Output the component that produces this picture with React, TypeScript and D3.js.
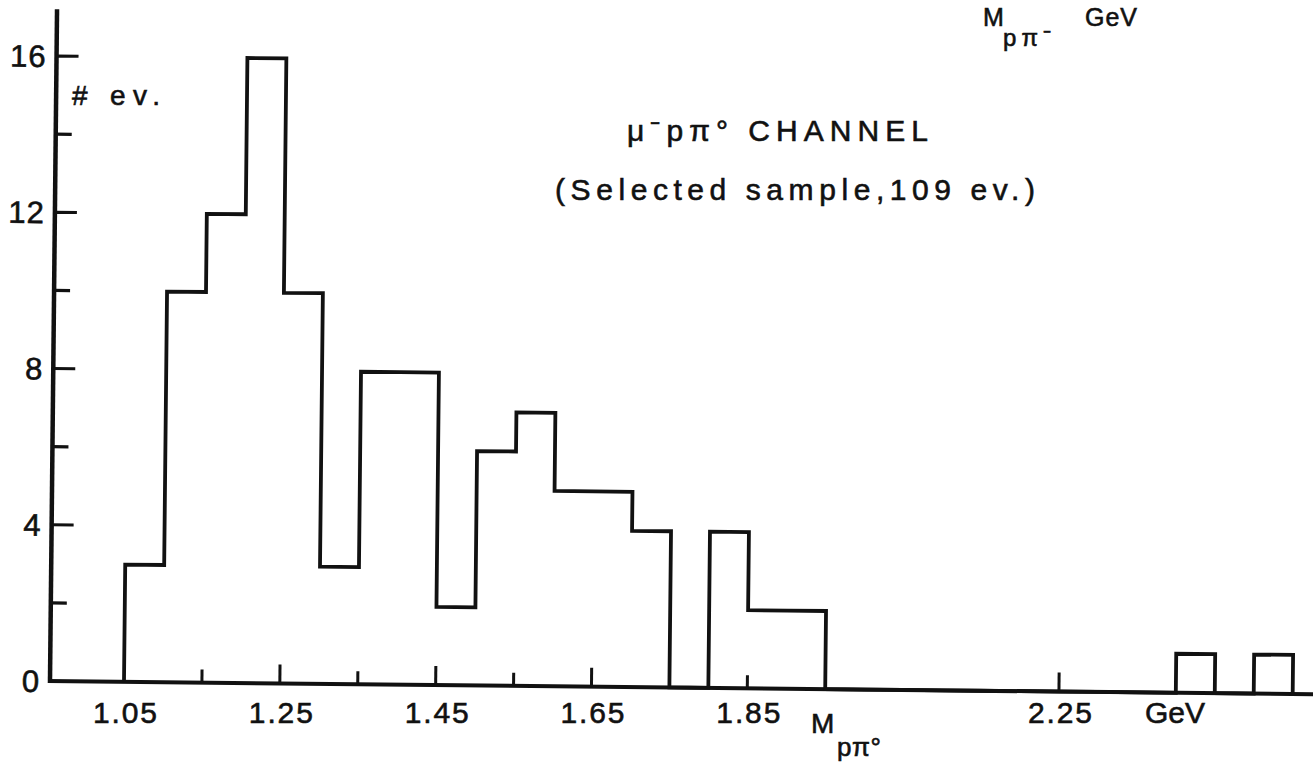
import React, { useEffect, useRef } from "react";
import * as d3 from "d3";

// bin edges in GeV and events per bin
const binEdges = [
  1.05, 1.1, 1.15, 1.2, 1.25, 1.3, 1.35, 1.4, 1.45, 1.5, 1.55, 1.6, 1.65, 1.7, 1.75,
  1.8, 1.85, 1.9, 1.95, 2.0, 2.05, 2.1, 2.15, 2.2, 2.25, 2.3, 2.35, 2.4, 2.45, 2.5, 2.55,
];
const counts = [
  3, 10, 12, 16, 10, 3, 8, 8, 2, 6, 7, 5, 5, 4, 0, 4, 2, 2, 0, 0, 0, 0, 0, 0, 0, 0, 0, 1,
  0, 1,
];

const xLabels = [1.05, 1.25, 1.45, 1.65, 1.85, 2.25];
const xTicksLong = [1.25, 1.45, 1.65, 2.25];
const xTicksShort = [1.15, 1.35, 1.55, 1.85];
const yLabels = [0, 4, 8, 12, 16];
const yTicksMajor = [4, 8, 12, 16];
const yTicksMinor = [2, 6, 10, 14];

const W = 1313;
const H = 763;
const INK = "#111";
const FONT = "'Liberation Sans', Arial, Helvetica, sans-serif";

function App() {
  const chartRef = useRef<SVGSVGElement>(null);

  useEffect(() => {
    const svg = d3.select(chartRef.current);
    svg.selectAll("*").remove();

    svg.append("rect").attr("width", W).attr("height", H).attr("fill", "#fff");

    const x = d3.scaleLinear().domain([1.05, 2.25]).range([124, 1059]);
    const y = d3.scaleLinear().domain([0, 16]).range([681, 56]);
    const x0 = 50;

    // scanned page sits slightly tilted
    const g = svg
      .append("g")
      .attr("transform", `rotate(0.6, ${x0}, ${y(0)})`);

    // axis lines
    g.append("line")
      .attr("x1", x0)
      .attr("x2", x0)
      .attr("y1", y(0) + 2)
      .attr("y2", y(17.2))
      .attr("stroke", INK)
      .attr("stroke-width", 4.5);
    g.append("line")
      .attr("x1", x0 - 2)
      .attr("x2", W + 30)
      .attr("y1", y(0))
      .attr("y2", y(0))
      .attr("stroke", INK)
      .attr("stroke-width", 4);

    // y ticks point inwards
    g.selectAll(".ymaj")
      .data(yTicksMajor)
      .enter()
      .append("line")
      .attr("x1", x0)
      .attr("x2", x0 + 22)
      .attr("y1", (d) => y(d))
      .attr("y2", (d) => y(d))
      .attr("stroke", INK)
      .attr("stroke-width", 3.2);
    g.selectAll(".ymin")
      .data(yTicksMinor)
      .enter()
      .append("line")
      .attr("x1", x0)
      .attr("x2", x0 + 16)
      .attr("y1", (d) => y(d))
      .attr("y2", (d) => y(d))
      .attr("stroke", INK)
      .attr("stroke-width", 3.2);

    g.selectAll(".ylab")
      .data(yLabels)
      .enter()
      .append("text")
      .attr("x", x0 - 10)
      .attr("y", (d) => y(d) + 11)
      .attr("text-anchor", "end")
      .attr("font-family", FONT)
      .attr("font-size", 31)
      .attr("letter-spacing", 1)
      .attr("fill", INK)
      .attr("stroke", INK)
      .attr("stroke-width", 0.6)
      .text((d) => d);

    // x ticks point upwards
    g.selectAll(".xlong")
      .data(xTicksLong)
      .enter()
      .append("line")
      .attr("x1", (d) => x(d))
      .attr("x2", (d) => x(d))
      .attr("y1", y(0))
      .attr("y2", y(0) - 19)
      .attr("stroke", INK)
      .attr("stroke-width", 3);
    g.selectAll(".xshort")
      .data(xTicksShort)
      .enter()
      .append("line")
      .attr("x1", (d) => x(d))
      .attr("x2", (d) => x(d))
      .attr("y1", y(0))
      .attr("y2", y(0) - 13)
      .attr("stroke", INK)
      .attr("stroke-width", 3);

    // histogram outline
    const pts: [number, number][] = [[binEdges[0], 0]];
    counts.forEach((c, i) => pts.push([binEdges[i], c]));
    pts.push([binEdges[binEdges.length - 1], 0]);
    const line = d3
      .line<[number, number]>()
      .x((d) => x(d[0]))
      .y((d) => y(d[1]))
      .curve(d3.curveStepAfter);
    g.append("path")
      .attr("d", line(pts) as string)
      .attr("fill", "none")
      .attr("stroke", INK)
      .attr("stroke-width", 3.8)
      .attr("stroke-linejoin", "miter");

    const txt = (tx: number, ty: number, size: number, s: string, len?: number) => {
      const t = svg
        .append("text")
        .attr("x", tx)
        .attr("y", ty)
        .attr("font-family", FONT)
        .attr("font-size", size)
        .attr("fill", INK)
        .attr("stroke", INK)
        .attr("stroke-width", 0.6)
        .text(s);
      if (len) t.attr("textLength", len).attr("lengthAdjust", "spacing");
      return t;
    };

    // x tick labels (typed level on the page)
    xLabels.forEach((v) => {
      txt(x(v) - 31, 723, 30, v.toFixed(2), 64);
    });

    // axis names
    txt(1145, 723, 30, "GeV", 60);
    txt(811, 733, 28, "M");
    txt(837, 756, 26, "pπ°", 44);
    txt(72, 105, 28, "# ev.", 88);

    // top right label
    txt(983, 26, 25, "M");
    txt(1003, 46, 24, "pπ⁻", 48);
    txt(1085, 26, 25, "GeV", 52);

    // title
    txt(627, 141, 30, "μ⁻pπ° CHANNEL", 301);
    txt(555, 200, 30, "(Selected sample,109 ev.)", 480);
  }, []);

  return (
    <div style={{ position: "absolute", left: 0, top: 0 }}>
      <svg ref={chartRef} width={W} height={H} style={{ display: "block" }} />
    </div>
  );
}

export default App;
